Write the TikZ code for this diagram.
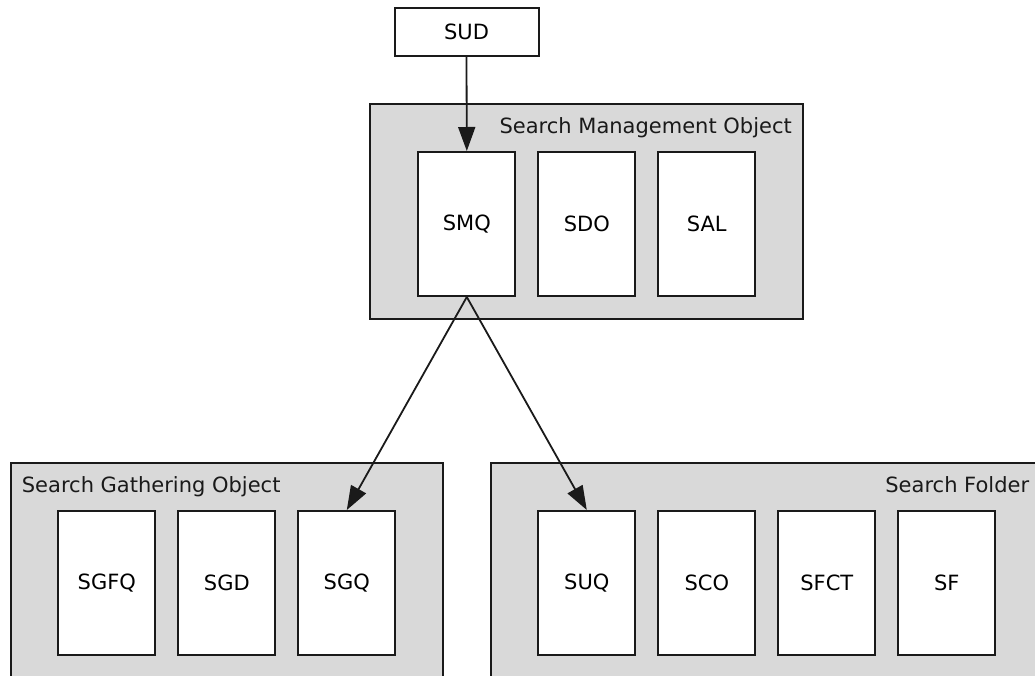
\documentclass[tikz,border=0pt]{standalone}
\usepackage{fontspec}
\setmainfont{DejaVu Sans}
\usetikzlibrary{arrows.meta}
\definecolor{grp}{HTML}{D9D9D9}
\definecolor{ln}{HTML}{1A1A1A}
\begin{document}
\begin{tikzpicture}[x=1pt,y=-1pt,
  group/.style={draw=ln, line width=2pt, fill=grp, inner sep=0pt, outer sep=0pt, anchor=north west},
  item/.style={draw=ln, line width=2pt, fill=white, inner sep=0pt, minimum width=97pt, minimum height=144pt, font=\fontsize{21}{24}\selectfont},
  ttl/.style={font=\fontsize{21}{24}\selectfont, inner sep=0pt, text=ln},
  conn/.style={draw=ln, line width=1.8pt, -{Triangle[length=24pt,width=17pt]}}]
\useasboundingbox (0,0) rectangle (1035,675);
\clip (0,0) rectangle (1035,675);
% groups
\node[group, minimum width=433pt, minimum height=215pt] (smo) at (370,104) {};
\node[group, minimum width=432pt, minimum height=260pt] (sgo) at (10.7,463.3) {};
\node[group, minimum width=600pt, minimum height=260pt] (sfo) at (490.7,463.3) {};
% titles
\node[ttl, anchor=base east] (smot) at (792,133.3) {Search Management Object};
\node[ttl, anchor=base west] (sgot) at (21.7,492.5) {Search Gathering Object};
\node[ttl, anchor=base east] (sfot) at (1029.3,492.3) {Search Folder};
% top
\node[item, minimum width=144pt, minimum height=48pt] (sud) at (466.5,31.7) {SUD};
\node[item] (smq) at (466.8,224) {SMQ};
\node[item] (sdo) at (586.8,224) {SDO};
\node[item] (sal) at (706.8,224) {SAL};
% gathering
\node[item] (sgfq) at (106.8,583) {SGFQ};
\node[item] (sgd) at (226.8,583) {SGD};
\node[item] (sgq) at (346.8,583) {SGQ};
% folder
\node[item] (suq) at (586.8,583) {SUQ};
\node[item] (sco) at (706.8,583) {SCO};
\node[item] (sfct) at (826.8,583) {SFCT};
\node[item] (sf) at (946.8,583) {SF};
% connectors
\draw[conn] (sud.south) -- (smq.north);
\draw[conn] (smq.south) -- (sgq.north);
\draw[conn] (smq.south) -- (suq.north);
\end{tikzpicture}
\end{document}
